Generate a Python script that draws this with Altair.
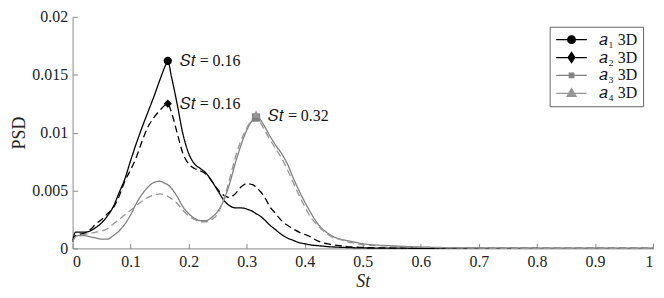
import altair as alt
import pandas as pd

# ---------------- data ----------------
st = [0, 0.005, 0.01, 0.02, 0.03, 0.04, 0.05, 0.06, 0.07, 0.08, 0.09,
      0.10, 0.11, 0.12, 0.13, 0.14, 0.15, 0.16, 0.164, 0.17, 0.18, 0.19,
      0.20, 0.21, 0.22, 0.23, 0.24, 0.25, 0.26, 0.27, 0.28, 0.29,
      0.30, 0.31, 0.316, 0.32, 0.33, 0.34, 0.35, 0.36, 0.37, 0.38, 0.39,
      0.40, 0.41, 0.42, 0.43, 0.44, 0.45, 0.46, 0.47, 0.48, 0.49,
      0.50, 0.55, 0.60, 0.65, 0.70, 0.80, 0.90, 1.00]

a1 = [0.0006, 0.0014, 0.0014, 0.0014, 0.0015, 0.0018, 0.0022, 0.0028, 0.0036, 0.0048, 0.0060,
      0.0076, 0.0091, 0.0105, 0.0118, 0.0131, 0.0145, 0.0158, 0.0162, 0.0149, 0.0125, 0.0099,
      0.0082, 0.0073, 0.0069, 0.0065, 0.0058, 0.0050, 0.0042, 0.0037, 0.0035, 0.0035,
      0.0034, 0.0032, 0.0030, 0.0029, 0.0025, 0.0020, 0.0016, 0.0012, 0.0009, 0.0007, 0.0005,
      0.0004, 0.0003, 0.00025, 0.0002, 0.00015, 0.00012, 0.0001, 0.00008, 0.00006, 0.00005,
      0.00004, 0.00002, 0.00001, 0, 0, 0, 0, 0]

a2 = [0.0006, 0.0011, 0.0012, 0.0013, 0.0016, 0.0021, 0.0025, 0.0030, 0.0035, 0.0045, 0.0058,
      0.0068, 0.0079, 0.0093, 0.0105, 0.0113, 0.0119, 0.0124, 0.0125, 0.0118, 0.0100, 0.0082,
      0.0073, 0.0069, 0.0067, 0.0064, 0.0058, 0.0051, 0.0046, 0.0044, 0.0047, 0.0053,
      0.0056, 0.0055, 0.0053, 0.0051, 0.0045, 0.0036, 0.0030, 0.0024, 0.0020, 0.0017, 0.0014,
      0.0012, 0.0010, 0.0007, 0.0005, 0.00038, 0.0003, 0.00023, 0.00017, 0.00012, 0.0001,
      0.00008, 0.00003, 0.00001, 0, 0, 0, 0, 0]

a3 = [0.0006, 0.0010, 0.0011, 0.0011, 0.0010, 0.0009, 0.0008, 0.0008, 0.0011, 0.0015, 0.0021,
      0.0029, 0.0039, 0.0047, 0.0053, 0.0057, 0.0058, 0.0056, 0.0055, 0.0052, 0.0045, 0.0036,
      0.0030, 0.0026, 0.0024, 0.0024, 0.0027, 0.0032, 0.0041, 0.0055, 0.0073, 0.0089,
      0.0102, 0.0111, 0.0114, 0.0113, 0.0106, 0.0097, 0.0089, 0.0082, 0.0073, 0.0061, 0.0050,
      0.0040, 0.0031, 0.0023, 0.0017, 0.0013, 0.0010, 0.0008, 0.0007, 0.0006, 0.0005,
      0.0004, 0.00022, 0.00012, 0.00006, 0.00003, 0.00001, 0, 0]

a4 = [0.0006, 0.0010, 0.0011, 0.0012, 0.0013, 0.0014, 0.0015, 0.0017, 0.0021, 0.0025, 0.0029,
      0.0033, 0.0037, 0.0041, 0.0044, 0.0046, 0.0047, 0.0046, 0.0045, 0.0043, 0.0039, 0.0033,
      0.0028, 0.0025, 0.0023, 0.0023, 0.0025, 0.0030, 0.0042, 0.0059, 0.0078, 0.0093,
      0.0104, 0.0111, 0.0113, 0.0111, 0.0103, 0.0094, 0.0086, 0.0078, 0.0068, 0.0057, 0.0046,
      0.0036, 0.0027, 0.0021, 0.0016, 0.0012, 0.0009, 0.0008, 0.0006, 0.0005, 0.0004,
      0.0003, 0.0002, 0.0001, 0.00005, 0.00002, 0, 0, 0]

series = ["𝑎₁ 3D", "𝑎₂ 3D", "𝑎₃ 3D", "𝑎₄ 3D"]

# peak markers
peak_st = [0.164, 0.164, 0.316, 0.316]
peak_psd = [0.0162, 0.0125, 0.0113, 0.0116]

# annotations
ann_st = [0.164, 0.164, 0.316]
ann_psd = [0.0162, 0.0125, 0.0114]
ann_text = ["𝑆𝑡 = 0.16", "𝑆𝑡 = 0.16", "𝑆𝑡 = 0.32"]

x_ticks = [0, 0.1, 0.2, 0.3, 0.4, 0.5, 0.6, 0.7, 0.8, 0.9, 1]
y_ticks = [0, 0.005, 0.01, 0.015, 0.02]

# ---------------- styling ----------------
W, H = 584, 233
FONT = "Liberation Serif"
AX = "#8a8a8a"
colors = ["#000000", "#000000", "#808080", "#969696"]
dashes = [[1, 0], [7, 4], [1, 0], [7, 4]]
marker_shapes = ["circle", "diamond", "square", "triangle-up"]
legend_shapes = [
    "M-2.2,0H2.2M0.55,0A0.55,0.55,0,1,1,-0.55,0A0.55,0.55,0,1,1,0.55,0Z",
    "M-2.2,0H2.2M0,-0.75L0.5,0L0,0.75L-0.5,0Z",
    "M-2.2,0H2.2M-0.33,-0.33H0.33V0.33H-0.33Z",
    "M-2.2,0H2.2M0,-0.7L0.65,0.45H-0.65Z",
]

rows = []
for name, vals in zip(series, [a1, a2, a3, a4]):
    for s, v in zip(st, vals):
        rows.append({"St": s, "PSD": v, "series": name})
df = pd.DataFrame(rows)
peaks = pd.DataFrame({"St": peak_st, "PSD": peak_psd, "series": series})
ann = pd.DataFrame({"St": ann_st, "PSD": ann_psd, "label": ann_text})

xscale = alt.Scale(domain=[0, 1], nice=False, zero=False)
yscale = alt.Scale(domain=[0, 0.02], nice=False)
color_scale = alt.Scale(domain=series, range=colors)

x_main = alt.Axis(values=x_ticks, format="~g", ticks=False, grid=False, domainColor=AX,
                  labelFont=FONT, labelFontSize=16, labelColor="#222", labelPadding=5,
                  title="St", titleFont=FONT, titleFontSize=18, titleFontStyle="italic",
                  titleFontWeight="normal", titleColor="#222", titlePadding=3)
y_main = alt.Axis(values=y_ticks, format="~g", ticks=False, grid=False, domainColor=AX,
                  labelFont=FONT, labelFontSize=16, labelColor="#222", labelPadding=5,
                  title="PSD", titleFont=FONT, titleFontSize=18, titleFontWeight="normal",
                  titleColor="#222", titlePadding=3)
x_ticks_axis = alt.Axis(orient="top", offset=-H, values=x_ticks, domain=False, labels=False,
                        ticks=True, tickSize=5, tickColor=AX, grid=False, title=None)
y_ticks_axis = alt.Axis(orient="right", offset=-W, values=y_ticks, domain=False, labels=False,
                        ticks=True, tickSize=5, tickColor=AX, grid=False, title=None)

lines = alt.Chart(df).mark_line(strokeWidth=1.3, interpolate="monotone").encode(
    x=alt.X("St:Q", scale=xscale, axis=x_main),
    y=alt.Y("PSD:Q", scale=yscale, axis=y_main),
    color=alt.Color("series:N", scale=color_scale, legend=None),
    strokeDash=alt.StrokeDash("series:N", scale=alt.Scale(domain=series, range=dashes), legend=None),
)

markers = alt.Chart(peaks).mark_point(filled=True, opacity=1, size=70).encode(
    x=alt.X("St:Q", scale=xscale, axis=x_ticks_axis),
    y=alt.Y("PSD:Q", scale=yscale, axis=y_ticks_axis),
    color=alt.Color("series:N", scale=color_scale, legend=None),
    shape=alt.Shape("series:N", scale=alt.Scale(domain=series, range=marker_shapes), legend=None),
)

leg = alt.Legend(title=None, orient="top-right", offset=10, fillColor="white",
                 strokeColor="#666", padding=5, labelFont=FONT, labelFontSize=16,
                 labelColor="#111", symbolSize=196, symbolStrokeWidth=1.2,
                 symbolOpacity=1, symbolOffset=9, labelOffset=20, rowPadding=2)

legend_layer = alt.Chart(peaks).mark_point(filled=True, opacity=0, size=196).encode(
    x=alt.X("St:Q", scale=xscale, axis=None),
    y=alt.Y("PSD:Q", scale=yscale, axis=None),
    fill=alt.Fill("series:N", scale=alt.Scale(domain=series, range=colors), legend=leg),
    stroke=alt.Stroke("series:N", scale=alt.Scale(domain=series, range=colors), legend=leg),
    shape=alt.Shape("series:N", scale=alt.Scale(domain=series, range=legend_shapes), legend=leg),
)

texts = alt.Chart(ann).mark_text(align="left", baseline="middle", dx=12, font=FONT,
                                 fontSize=16, color="#111").encode(
    x=alt.X("St:Q", scale=xscale, axis=None),
    y=alt.Y("PSD:Q", scale=yscale, axis=None),
    text="label:N",
)

chart = alt.layer(lines, markers, legend_layer, texts).resolve_scale(
    shape="independent", fill="independent", stroke="independent"
).resolve_axis(x="independent", y="independent").properties(
    width=W, height=H, padding={"left": 3, "top": 0, "right": 0, "bottom": 0}
).configure_view(stroke="transparent")

chart.save("out.html", embed_options={"renderer": "svg", "actions": False})
